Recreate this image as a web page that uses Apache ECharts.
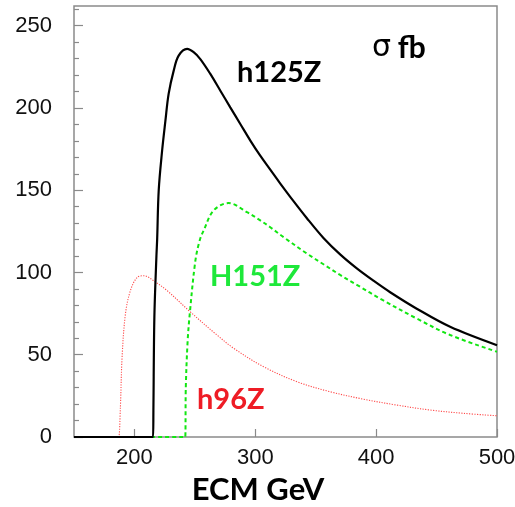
<!DOCTYPE html>
<html>
<head>
<meta charset="utf-8">
<script src="https://cdn.jsdelivr.net/npm/echarts@6/dist/echarts.min.js"></script>
<style>
html,body{margin:0;padding:0;background:#fff;}
#chart{width:515px;height:507px;}
</style>
</head>
<body>
<div id="chart"></div>
<script>
// ---- data ----
const xTicks = [200, 300, 400, 500];
const yTicks = [0, 50, 100, 150, 200, 250];
const yMinorTicks = [10, 20, 30, 40, 60, 70, 80, 90, 110, 120, 130, 140, 160, 170, 180, 190, 210, 220, 230, 240, 260];

const h125X = [150, 214, 215.4, 215.7, 216.5, 218.2, 218.8, 220.1, 222.9, 225.6, 228.3, 232.5, 236.6, 243.6, 249, 254.5, 262.8, 271.1, 279.3, 287.6, 295.9, 304.1, 312.4, 320.7, 328.9, 342.7, 356.4, 370.2, 384, 397.8, 411.6, 433.6, 461.2, 500];
const h125Y = [0, 0, 0, 16, 73, 110, 120, 150, 174, 192, 208.6, 222.7, 231.8, 235.9, 233.9, 229.7, 220.7, 210.5, 200.4, 190.3, 180.2, 171, 162.5, 154, 146, 133, 121, 111, 102.5, 95, 88, 78, 67, 55.8];

const H151X = [150, 241, 242, 242.5, 244, 245.8, 250.4, 254, 257.3, 265.5, 277.9, 293.1, 304.1, 312.4, 323.4, 342.7, 356.4, 370.2, 384, 406, 433.6, 461.2, 500];
const H151Y = [0, 0, 0, 30, 58, 75, 107, 119.5, 125.6, 137.7, 142.2, 136.7, 131.7, 127.5, 121.5, 111.5, 105, 98.5, 92.5, 83, 72, 62, 51.8];

const h96X = [150, 186, 187, 188.4, 189.8, 192.6, 196.7, 202.2, 207.7, 217.4, 227, 246.3, 268.3, 282, 306.9, 334.5, 362, 389.5, 417.1, 444.6, 472.1, 500];
const h96Y = [0, 0, 0, 18.4, 48.7, 75, 89, 97, 98, 94.2, 89, 76, 62, 54, 42.7, 33.6, 27.5, 23, 19.4, 16.4, 14.4, 12.9];

const seriesNames = ['h125Z', 'H151Z', 'h96Z'];

function zip(xs, ys) { return xs.map((x, i) => [x, ys[i]]); }

const chart = echarts.init(document.getElementById('chart'), null, {renderer: 'canvas'});
const frameColor = '#8a8a8a';
const labelFont = {fontFamily: 'Liberation Sans', fontSize: 22, color: '#111'};

chart.setOption({
  animation: false,
  backgroundColor: '#ffffff',
  grid: {left: 74, right: 18, top: 6, bottom: 70, show: true, borderColor: frameColor, borderWidth: 1.5,
         backgroundColor: 'transparent', outerBoundsMode: 'none', containLabel: false},
  xAxis: {
    type: 'value', min: 150, max: 500,
    axisLine: {show: false},
    splitLine: {show: false},
    axisTick: {show: true, inside: true, length: 8, customValues: xTicks, lineStyle: {color: frameColor, width: 1.2}},
    axisLabel: Object.assign({customValues: xTicks, margin: 10, hideOverlap: false}, labelFont)
  },
  yAxis: [{
    type: 'value', min: 0, max: 262,
    axisLine: {show: false},
    splitLine: {show: false},
    axisTick: {show: true, inside: true, length: 9, customValues: yTicks, lineStyle: {color: frameColor, width: 1.2}},
    axisLabel: Object.assign({customValues: yTicks, margin: 22}, labelFont)
  }, {
    type: 'value', min: 0, max: 262, position: 'left',
    axisLine: {show: false},
    splitLine: {show: false},
    axisTick: {show: true, inside: true, length: 5, customValues: yMinorTicks, lineStyle: {color: frameColor, width: 1.2}},
    axisLabel: {show: false}
  }],
  series: [{
    name: seriesNames[0], type: 'line', data: zip(h125X, h125Y),
    showSymbol: false, smooth: 0.35,
    lineStyle: {color: '#000000', width: 2.2}, z: 3
  }, {
    name: seriesNames[1], type: 'line', data: zip(H151X, H151Y),
    showSymbol: false, smooth: 0.35,
    lineStyle: {color: '#11e611', width: 2, type: [4, 3]}, z: 2
  }, {
    name: seriesNames[2], type: 'line', data: zip(h96X, h96Y),
    showSymbol: false, smooth: 0.35,
    lineStyle: {color: '#ff4a4a', width: 1.1, type: [1.2, 1.4]}, z: 1
  }],
  graphic: [
    {type: 'text', x: 237, y: 73, style: {text: seriesNames[0], fill: '#000', font: 'bold 29px Lato', verticalAlign: 'middle'}},
    {type: 'text', x: 210, y: 277, style: {text: seriesNames[1], fill: '#1ee83a', font: 'bold 29px Lato', verticalAlign: 'middle'}},
    {type: 'text', x: 197, y: 400, style: {text: seriesNames[2], fill: '#ee1c25', font: 'bold 29px Lato', verticalAlign: 'middle'}},
    {type: 'text', x: 372, y: 48, style: {
      text: '{s|σ}  {b|fb}', verticalAlign: 'middle',
      rich: {s: {font: '30px "DejaVu Sans"', fill: '#000'}, b: {font: 'bold 30px Lato', fill: '#000'}}
    }},
    {type: 'text', x: 258, y: 490, style: {text: 'ECM GeV', fill: '#000', font: 'bold 31px Lato', align: 'center', verticalAlign: 'middle'}}
  ]
});
</script>
</body>
</html>
